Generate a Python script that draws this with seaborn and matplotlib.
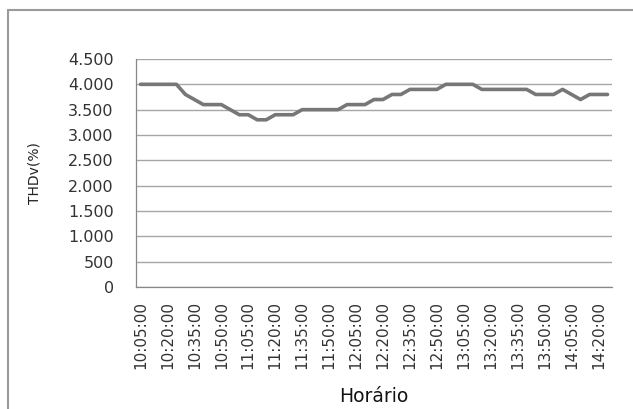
import numpy as np
import pandas as pd
import matplotlib
matplotlib.use('Agg')
import matplotlib.pyplot as plt
import seaborn as sns
from matplotlib.lines import Line2D
from matplotlib.ticker import FuncFormatter

# horarios de 10:05 ate 14:25, a cada 5 min
horarios = pd.date_range('10:05', '14:25', freq='5min').strftime('%H:%M:%S').tolist()
thdv = [4000, 4000, 4000, 4000, 4000, 3800, 3700, 3600, 3600, 3600,
        3500, 3400, 3400, 3300, 3300, 3400, 3400, 3400, 3500, 3500,
        3500, 3500, 3500, 3600, 3600, 3600, 3700, 3700, 3800, 3800,
        3900, 3900, 3900, 3900, 4000, 4000, 4000, 4000, 3900, 3900,
        3900, 3900, 3900, 3900, 3800, 3800, 3800, 3900, 3800, 3700,
        3800, 3800, 3800]
yticks = [0, 500, 1000, 1500, 2000, 2500, 3000, 3500, 4000, 4500]

df = pd.DataFrame({'Horario': horarios, 'THDv': thdv})
df['pos'] = np.arange(len(df))

sns.set_style('white')
plt.rcParams['font.family'] = ['DejaVu Sans']

fig = plt.figure(figsize=(6.33, 4.09), dpi=100)
ax = fig.add_axes([136/633, 1-287/409, 476/633, 228/409])

sns.lineplot(data=df, x='pos', y='THDv', ax=ax, color='#777777', linewidth=2.6)

ax.set_xlim(-0.5, len(df)-0.5)
ax.set_ylim(0, 4500)
ax.set_yticks(yticks)
ax.yaxis.set_major_formatter(FuncFormatter(lambda v, p: f'{int(v):,}'.replace(',', '.')))
ax.grid(axis='y', color='#a6a6a6', linewidth=1)
ax.set_axisbelow(True)

ax.set_xticks(df['pos'][::3])
ax.set_xticklabels(df['Horario'][::3], rotation=90)
ax.set_xticks(np.arange(-0.5, len(df)), minor=True)
ax.tick_params(axis='x', which='major', length=0, pad=10, labelsize=11, colors='#333333')
ax.tick_params(axis='x', which='minor', length=4, width=0.8, color='#888888', direction='out')
ax.tick_params(axis='y', length=6, width=0.8, color='#888888', labelsize=11.5, pad=10)
ax.tick_params(axis='y', labelcolor='#333333')

for s in ['top', 'right']:
    ax.spines[s].set_visible(False)
for s in ['left', 'bottom']:
    ax.spines[s].set_color('#888888')
    ax.spines[s].set_linewidth(0.9)

ax.set_xlabel('Horário', fontsize=13.5, color='#111111', labelpad=13)
ax.set_ylabel('THDv(%)', fontsize=10, color='#222222', labelpad=19)

# moldura do grafico (cortada a direita e embaixo)
fig.add_artist(Line2D([8/633, 8/633], [0, 1-10/409], transform=fig.transFigure, color='#9a9a9a', linewidth=1.5))
fig.add_artist(Line2D([8/633, 1], [1-10/409, 1-10/409], transform=fig.transFigure, color='#9a9a9a', linewidth=1.5))

fig.savefig('out.png', dpi=100, facecolor='white')
